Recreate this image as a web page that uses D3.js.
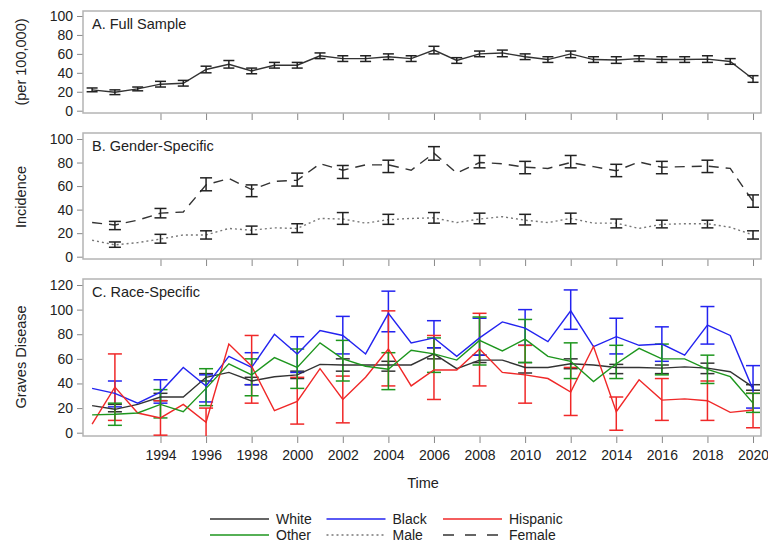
<!DOCTYPE html>
<html>
<head>
<meta charset="utf-8">
<script src="https://cdn.jsdelivr.net/npm/d3@7"></script>
<style>
    body { margin: 0; background: #fff; }
    svg { display: block; font-family: "Liberation Sans", Arial, sans-serif; }
    .tick-label { font-size: 14px; fill: #222; }
</style>
</head>
<body>
<svg id="chart" width="768" height="543"></svg>
<script>
// yearly series 1991..2020
const years = d3.range(1991, 2021);
// error bars only shown on even years (plus 1992) for panels B and C
const barYears = d3.range(1992, 2021, 2);
const xTicks = d3.range(1994, 2021, 2);

// A. full sample
const fullRate = [22, 19.5, 23, 28, 29, 43.5, 49, 42, 48, 48, 58, 55, 55, 57, 55, 64, 53, 60, 61, 57, 54, 60, 54, 53.5, 55, 54, 54, 54.5, 52, 33.5];
const fullLo = [20, 17, 21, 25, 26, 40, 45, 39, 45, 45, 55, 52, 52, 54, 52, 60, 50, 57, 57, 54, 51, 56, 51, 50, 52, 51, 51, 51, 49, 30];
const fullHi = [24, 22, 25, 31, 32, 47, 53, 45, 51, 51, 61, 58, 58, 60, 58, 68, 56, 63, 64, 60, 57, 63, 57, 57, 58, 57, 57, 58, 55, 37];

// B. gender
const femaleRate = [29, 27, 31, 37, 38, 61, 66.5, 57, 64, 65, 79, 73.5, 78, 78, 73.5, 88, 71, 80, 79, 76, 75, 80, 76.5, 73, 80.5, 76, 76.5, 77, 75, 47];
const femaleLo = [23, 33, 56, 51, 60, 66.5, 71.5, 82, 75.5, 70.5, 75.5, 68, 70.5, 71.5, 42];
const femaleHi = [30, 41, 67, 61, 71, 77.5, 82, 93.5, 86, 81, 86, 78.5, 81, 82, 52.5];
const maleRate = [14, 10, 12, 15, 18.5, 18.5, 24, 22.5, 24.5, 24, 32.5, 32, 28.5, 31.5, 32.5, 33, 29, 32, 34, 31, 29, 32.5, 28.5, 28.5, 24, 27.5, 28, 28, 25, 18.5];
const maleLo = [8, 11.5, 15, 19, 20.5, 27.5, 27.5, 28.5, 28, 27, 28, 24.5, 24.5, 24.5, 15];
const maleHi = [12.5, 19, 22, 26, 28, 37.5, 36, 37.5, 37, 36, 37, 32, 31, 31, 22];

// C. race
const whiteRate = [22, 19, 23, 29, 29, 45, 49, 42, 45.5, 47, 55.5, 55, 55, 55, 55, 64, 52, 59, 59, 53, 53, 56, 55, 53, 53, 52.5, 53.5, 52.5, 49.5, 37];
const whiteLo = [17, 26, 42, 39, 44, 50, 50, 60, 57, 48.5, 52, 48, 48, 48, 34.5];
const whiteHi = [23, 32, 48, 45, 50, 60, 58, 69, 63, 57, 60, 55.5, 55, 56.5, 39];
const blackRate = [36, 32, 24, 33, 53, 38, 62, 53, 80, 64, 83, 79, 64, 97, 73, 77, 62, 77, 90, 85, 74, 99, 70, 78, 71, 72, 63, 87.5, 79, 35];
const blackLo = [21, 24, 25, 39, 49, 64, 82, 69, 63, 71, 84, 64, 58, 72, 20];
const blackHi = [42, 43, 47, 65, 78, 94.5, 115, 91, 93, 100, 116, 93, 86, 102.5, 54.5];
const hispanicRate = [7, 37, 16, 12, 23, 8.5, 72, 54, 18, 25.5, 52, 27, 45, 68, 38, 51, 51, 68, 49, 47, 44, 33, 70, 17, 43, 26.5, 27.5, 26, 16.5, 18.5];
const hispanicLo = [10, -2, -6, 24, 7, 8, 38, 27, 38, 24, 14, 2, 10, 10, 4];
const hispanicHi = [64, 26, 20, 79, 45, 46, 99, 79, 97, 71, 53, 29, 44, 42, 32];
const otherRate = [14.5, 15, 16, 23, 17, 36, 56, 47, 61, 53, 73, 60, 54, 51.5, 67, 64, 59, 75, 66.5, 76, 62, 58, 41.5, 56, 68.5, 60, 60, 51.5, 45.5, 24];
const otherLo = [6, 12, 22, 30, 36, 42, 35, 49, 55, 57, 44, 44, 47, 40, 16.5];
const otherHi = [24, 35, 52, 60, 68, 75, 65, 77, 94, 92, 73, 71, 72, 63, 32];

const svg = d3.select('#chart');
const frameLeft = 83;
const frameRight = 761;

const x = d3.scaleLinear().domain([1990.6, 2020.35]).range([frameLeft, frameRight]);

const panels = [
    {id: 'a', title: 'A. Full Sample', top: 11, bottom: 113, max: 100, y0: 110.7, yMax: 16, ticks: d3.range(0, 101, 20)},
    {id: 'b', title: 'B. Gender-Specific', top: 133, bottom: 259, max: 100, y0: 256.7, yMax: 139, ticks: d3.range(0, 101, 20)},
    {id: 'c', title: 'C. Race-Specific', top: 279, bottom: 436, max: 120, y0: 432.7, yMax: 285, ticks: d3.range(0, 121, 20)}
];

function drawLine(g, y, values, color, dash) {
    const line = d3.line()
        .x((d, i) => x(years[i]))
        .y(d => y(d));
    g.append('path')
        .datum(values)
        .attr('d', line)
        .attr('fill', 'none')
        .attr('stroke', color)
        .attr('stroke-width', 1.4)
        .attr('stroke-dasharray', dash || null);
}

function drawBars(g, y, yrs, lo, hi, color, capHalf) {
    const bars = g.append('g')
        .selectAll('g')
        .data(yrs.map((yr, i) => ({yr, lo: lo[i], hi: hi[i]})))
        .enter()
        .append('g')
        .attr('stroke', color)
        .attr('stroke-width', 1.5);
    bars.append('line')
        .attr('x1', d => x(d.yr)).attr('x2', d => x(d.yr))
        .attr('y1', d => y(d.lo)).attr('y2', d => y(d.hi));
    bars.append('line')
        .attr('x1', d => x(d.yr) - capHalf).attr('x2', d => x(d.yr) + capHalf)
        .attr('y1', d => y(d.lo)).attr('y2', d => y(d.lo));
    bars.append('line')
        .attr('x1', d => x(d.yr) - capHalf).attr('x2', d => x(d.yr) + capHalf)
        .attr('y1', d => y(d.hi)).attr('y2', d => y(d.hi));
}

panels.forEach((p) => {
    const y = d3.scaleLinear().domain([0, p.max]).range([p.y0, p.yMax]);
    p.y = y;

    svg.append('clipPath')
        .attr('id', `clip-${p.id}`)
        .append('rect')
        .attr('x', frameLeft)
        .attr('y', p.top)
        .attr('width', frameRight - frameLeft)
        .attr('height', p.bottom - p.top);

    // y axis: ticks and labels outside the frame
    const yAxis = svg.append('g')
        .attr('transform', `translate(${frameLeft},0)`)
        .call(d3.axisLeft(y).tickValues(p.ticks).tickSize(6).tickPadding(4));
    yAxis.select('.domain').remove();
    yAxis.selectAll('line').attr('stroke', '#888');
    yAxis.selectAll('text').attr('class', 'tick-label').style('font-size', '14px');

    // x axis ticks below each frame
    const xAxis = svg.append('g')
        .attr('transform', `translate(0,${p.bottom})`)
        .call(d3.axisBottom(x).tickValues(xTicks).tickSize(7).tickPadding(7).tickFormat(d3.format('d')));
    xAxis.select('.domain').remove();
    xAxis.selectAll('line').attr('stroke', '#888');
    if (p.id === 'c') {
        xAxis.selectAll('text').attr('class', 'tick-label').style('font-size', '14px');
    } else {
        xAxis.selectAll('text').remove();
    }

    svg.append('rect')
        .attr('x', frameLeft)
        .attr('y', p.top)
        .attr('width', frameRight - frameLeft)
        .attr('height', p.bottom - p.top)
        .attr('fill', 'none')
        .attr('stroke', '#b4b4b4')
        .attr('stroke-width', 1.5);

    svg.append('text')
        .attr('x', frameLeft + 9)
        .attr('y', p.top + 18)
        .style('font-size', '14.5px')
        .attr('fill', '#222')
        .text(p.title);

    p.g = svg.append('g').attr('clip-path', `url(#clip-${p.id})`);
});

// A. full sample
const pa = panels[0];
drawLine(pa.g, pa.y, fullRate, '#333');
drawBars(pa.g, pa.y, years, fullLo, fullHi, '#222', 5.5);

// B. gender
const pb = panels[1];
drawLine(pb.g, pb.y, femaleRate, '#333', '10,7');
drawLine(pb.g, pb.y, maleRate, '#777', '2,3');
drawBars(pb.g, pb.y, barYears, femaleLo, femaleHi, '#222', 6);
drawBars(pb.g, pb.y, barYears, maleLo, maleHi, '#222', 6);

// C. race
const pc = panels[2];
const race = [
    {name: 'White', rate: whiteRate, lo: whiteLo, hi: whiteHi, color: '#333'},
    {name: 'Black', rate: blackRate, lo: blackLo, hi: blackHi, color: '#2323f0'},
    {name: 'Hispanic', rate: hispanicRate, lo: hispanicLo, hi: hispanicHi, color: '#f02828'},
    {name: 'Other', rate: otherRate, lo: otherLo, hi: otherHi, color: '#1e961e'}
];
race.forEach((r) => {
    drawBars(pc.g, pc.y, barYears, r.lo, r.hi, r.color, 7);
});
race.forEach((r) => {
    drawLine(pc.g, pc.y, r.rate, r.color);
});

// y axis titles, one piece per panel
const yTitles = [
    {text: '(per 100,000)', cy: 62},
    {text: 'Incidence', cy: 197},
    {text: 'Graves Disease', cy: 357}
];
svg.selectAll('.y-title')
    .data(yTitles)
    .enter()
    .append('text')
    .attr('class', 'y-title')
    .attr('transform', d => `translate(26,${d.cy}) rotate(-90)`)
    .attr('text-anchor', 'middle')
    .style('font-size', '14.5px')
    .attr('fill', '#222')
    .text(d => d.text);

svg.append('text')
    .attr('x', 423)
    .attr('y', 488)
    .attr('text-anchor', 'middle')
    .style('font-size', '14.5px')
    .attr('fill', '#222')
    .text('Time');

// legend
const legendItems = [
    {name: 'White', color: '#333', dash: null, col: 0, row: 0},
    {name: 'Black', color: '#2323f0', dash: null, col: 1, row: 0},
    {name: 'Hispanic', color: '#f02828', dash: null, col: 2, row: 0},
    {name: 'Other', color: '#1e961e', dash: null, col: 0, row: 1},
    {name: 'Male', color: '#777', dash: '2,3', col: 1, row: 1},
    {name: 'Female', color: '#333', dash: '11,11', col: 2, row: 1}
];
const legend = svg.append('g')
    .selectAll('g')
    .data(legendItems)
    .enter()
    .append('g')
    .attr('transform', d => `translate(${210 + d.col * 116.5},${519 + d.row * 16})`);
legend.append('line')
    .attr('x1', 0).attr('x2', 59)
    .attr('stroke', d => d.color)
    .attr('stroke-width', 1.5)
    .attr('stroke-dasharray', d => d.dash);
legend.append('text')
    .attr('x', 66)
    .attr('y', 4.5)
    .style('font-size', '14px')
    .attr('fill', '#222')
    .text(d => d.name);
</script>
</body>
</html>
